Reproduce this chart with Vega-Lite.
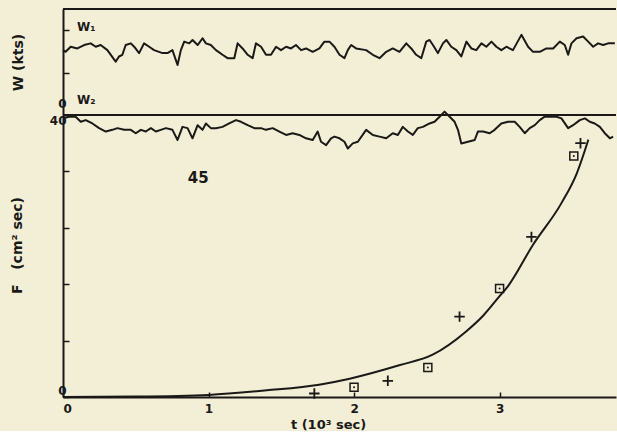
{
"$schema":"https://vega.github.io/schema/vega-lite/v6.json",
"background":"#f3eed6",
"padding":{"left":10,"top":8,"right":0,"bottom":0},
"spacing":0,
"bounds":"flush",
"config":{"view":{"stroke":null},"font":"DejaVu Sans",
"axis":{"domainColor":"#1b1917","domainWidth":2,"tickColor":"#1b1917","tickWidth":1.5,"tickSize":-6,"labelColor":"#1b1917","labelFont":"DejaVu Sans","labelFontWeight":"bold","labelFontSize":12,"titleColor":"#1b1917","titleFont":"DejaVu Sans","titleFontWeight":"bold","titleFontSize":13,"grid":false,"labelPadding":3}},
"datasets":{
"w1":[{"t":0,"w":15.3},{"t":0.018,"w":14.9},{"t":0.053,"w":16.1},{"t":0.099,"w":15.7},{"t":0.145,"w":16.5},{"t":0.19,"w":16.9},{"t":0.225,"w":16.1},{"t":0.259,"w":16.5},{"t":0.305,"w":15.3},{"t":0.362,"w":12.6},{"t":0.385,"w":13.8},{"t":0.408,"w":14.2},{"t":0.431,"w":16.5},{"t":0.466,"w":16.9},{"t":0.489,"w":16.1},{"t":0.523,"w":14.6},{"t":0.557,"w":16.9},{"t":0.592,"w":16.1},{"t":0.626,"w":15.3},{"t":0.684,"w":14.6},{"t":0.718,"w":14.6},{"t":0.752,"w":15.3},{"t":0.787,"w":11.8},{"t":0.81,"w":15.3},{"t":0.833,"w":17.3},{"t":0.867,"w":16.9},{"t":0.89,"w":17.7},{"t":0.925,"w":16.5},{"t":0.959,"w":18.1},{"t":0.982,"w":16.9},{"t":1.016,"w":16.5},{"t":1.051,"w":15.3},{"t":1.096,"w":14.2},{"t":1.131,"w":13.4},{"t":1.177,"w":13.4},{"t":1.2,"w":16.9},{"t":1.234,"w":15.7},{"t":1.269,"w":14.2},{"t":1.303,"w":13.4},{"t":1.326,"w":16.9},{"t":1.361,"w":16.1},{"t":1.395,"w":14.2},{"t":1.429,"w":14.2},{"t":1.464,"w":16.1},{"t":1.498,"w":15.3},{"t":1.533,"w":16.1},{"t":1.567,"w":15.7},{"t":1.601,"w":16.5},{"t":1.636,"w":15.3},{"t":1.67,"w":15.7},{"t":1.716,"w":14.9},{"t":1.762,"w":15.7},{"t":1.796,"w":17.3},{"t":1.831,"w":17.3},{"t":1.865,"w":16.1},{"t":1.9,"w":14.2},{"t":1.934,"w":13.4},{"t":1.957,"w":15.3},{"t":1.98,"w":16.5},{"t":2.014,"w":15.7},{"t":2.083,"w":15.3},{"t":2.129,"w":14.2},{"t":2.175,"w":13.4},{"t":2.221,"w":14.9},{"t":2.266,"w":15.7},{"t":2.312,"w":14.9},{"t":2.359,"w":16.9},{"t":2.393,"w":15.7},{"t":2.427,"w":14.2},{"t":2.462,"w":13.4},{"t":2.496,"w":17.3},{"t":2.519,"w":17.7},{"t":2.542,"w":16.5},{"t":2.576,"w":14.6},{"t":2.611,"w":16.9},{"t":2.634,"w":17.7},{"t":2.668,"w":16.1},{"t":2.703,"w":15.3},{"t":2.737,"w":13.8},{"t":2.772,"w":17.3},{"t":2.806,"w":15.7},{"t":2.84,"w":15.3},{"t":2.875,"w":16.9},{"t":2.909,"w":16.1},{"t":2.944,"w":17.3},{"t":2.978,"w":16.1},{"t":3.012,"w":15.3},{"t":3.047,"w":16.1},{"t":3.092,"w":15.3},{"t":3.15,"w":18.9},{"t":3.196,"w":16.1},{"t":3.23,"w":14.9},{"t":3.276,"w":14.9},{"t":3.322,"w":15.7},{"t":3.368,"w":15.7},{"t":3.414,"w":17.3},{"t":3.448,"w":16.5},{"t":3.471,"w":14.2},{"t":3.494,"w":16.9},{"t":3.529,"w":18.1},{"t":3.574,"w":18.5},{"t":3.609,"w":17.3},{"t":3.643,"w":16.1},{"t":3.677,"w":16.9},{"t":3.712,"w":16.5},{"t":3.746,"w":16.9},{"t":3.792,"w":16.9}],
"w2":[{"t":0,"w":24.2},{"t":0.041,"w":24.6},{"t":0.087,"w":24.6},{"t":0.122,"w":23.4},{"t":0.156,"w":23.8},{"t":0.202,"w":23.0},{"t":0.248,"w":21.9},{"t":0.294,"w":21.1},{"t":0.339,"w":21.5},{"t":0.374,"w":21.9},{"t":0.42,"w":21.5},{"t":0.466,"w":21.5},{"t":0.5,"w":20.7},{"t":0.535,"w":21.5},{"t":0.569,"w":21.1},{"t":0.604,"w":21.9},{"t":0.638,"w":21.1},{"t":0.672,"w":21.5},{"t":0.707,"w":21.9},{"t":0.752,"w":21.5},{"t":0.787,"w":19.1},{"t":0.821,"w":22.2},{"t":0.856,"w":21.9},{"t":0.89,"w":19.5},{"t":0.925,"w":22.6},{"t":0.959,"w":21.5},{"t":0.982,"w":23.0},{"t":1.016,"w":21.9},{"t":1.051,"w":21.9},{"t":1.096,"w":22.2},{"t":1.142,"w":23.0},{"t":1.189,"w":23.8},{"t":1.223,"w":23.4},{"t":1.269,"w":22.6},{"t":1.315,"w":21.9},{"t":1.361,"w":21.9},{"t":1.395,"w":21.5},{"t":1.441,"w":21.9},{"t":1.487,"w":21.1},{"t":1.533,"w":20.3},{"t":1.578,"w":20.7},{"t":1.624,"w":20.3},{"t":1.67,"w":19.5},{"t":1.716,"w":19.1},{"t":1.75,"w":21.1},{"t":1.773,"w":18.7},{"t":1.808,"w":17.9},{"t":1.842,"w":19.5},{"t":1.865,"w":19.9},{"t":1.9,"w":19.5},{"t":1.934,"w":18.7},{"t":1.957,"w":17.1},{"t":1.991,"w":18.3},{"t":2.026,"w":18.7},{"t":2.083,"w":21.5},{"t":2.129,"w":20.3},{"t":2.175,"w":19.9},{"t":2.221,"w":19.5},{"t":2.266,"w":20.7},{"t":2.301,"w":20.3},{"t":2.335,"w":22.2},{"t":2.37,"w":21.1},{"t":2.404,"w":20.3},{"t":2.438,"w":21.9},{"t":2.473,"w":22.2},{"t":2.519,"w":23.0},{"t":2.553,"w":23.4},{"t":2.588,"w":24.6},{"t":2.622,"w":25.8},{"t":2.657,"w":24.6},{"t":2.691,"w":23.4},{"t":2.714,"w":21.5},{"t":2.737,"w":18.3},{"t":2.783,"w":18.7},{"t":2.829,"w":19.1},{"t":2.851,"w":21.1},{"t":2.886,"w":21.1},{"t":2.932,"w":20.7},{"t":2.966,"w":21.5},{"t":3.012,"w":23.0},{"t":3.058,"w":23.4},{"t":3.104,"w":23.4},{"t":3.138,"w":22.2},{"t":3.173,"w":20.7},{"t":3.207,"w":21.9},{"t":3.242,"w":22.6},{"t":3.276,"w":23.8},{"t":3.31,"w":24.6},{"t":3.345,"w":24.6},{"t":3.391,"w":24.6},{"t":3.425,"w":24.2},{"t":3.471,"w":21.9},{"t":3.505,"w":22.6},{"t":3.551,"w":23.8},{"t":3.586,"w":24.2},{"t":3.62,"w":23.4},{"t":3.654,"w":23.0},{"t":3.689,"w":22.2},{"t":3.723,"w":20.7},{"t":3.758,"w":19.5},{"t":3.78,"w":19.9}],
"flux":[{"t":0,"F":0},{"t":0.5,"F":0.06},{"t":1.0,"F":0.3},{"t":1.4,"F":0.95},{"t":1.76,"F":1.75},{"t":1.97,"F":2.6},{"t":2.31,"F":4.5},{"t":2.54,"F":6.0},{"t":2.77,"F":9.3},{"t":2.89,"F":11.6},{"t":3.0,"F":14.3},{"t":3.05,"F":15.5},{"t":3.23,"F":21.6},{"t":3.425,"F":27.5},{"t":3.53,"F":31.7},{"t":3.61,"F":36.5}],
"obs":[{"t":2.0,"F":1.4,"kind":"square"},{"t":2.507,"F":4.2,"kind":"square"},{"t":3.0,"F":15.4,"kind":"square"},{"t":3.51,"F":34.2,"kind":"square"},{"t":1.727,"F":0.5,"kind":"plus"},{"t":2.232,"F":2.3,"kind":"plus"},{"t":2.725,"F":11.4,"kind":"plus"},{"t":3.219,"F":22.7,"kind":"plus"},{"t":3.556,"F":36.0,"kind":"plus"}]
},
"vconcat":[
{"width":553,"height":106,
 "layer":[
  {"data":{"name":"w1"},"mark":{"type":"line","color":"#1b1917","strokeWidth":2,"strokeJoin":"round"},
   "encoding":{"x":{"field":"t","type":"quantitative","scale":{"domain":[0,3.8],"nice":false},"axis":null},
    "y":{"field":"w","type":"quantitative","scale":{"domain":[0,25],"nice":false},"axis":{"values":[0,5,10,15,20,25],"labelExpr":"datum.value==0||datum.value==25?datum.label:''","labelFlush":true,"labelOffset":{"condition":{"test":"datum.value==0","value":-5},"value":0},"title":"W (kts)","titleFontSize":14,"titleX":-45,"titleY":53,"titleBaseline":"middle","titleAlign":"center"}}}},
  {"data":{"values":[{"v":25},{"v":0}]},"mark":{"type":"rule","color":"#1b1917","strokeWidth":2},
   "encoding":{"y":{"field":"v","type":"quantitative"}}},
  {"data":{"values":[{}]},"mark":{"type":"text","text":"W₁","align":"left","baseline":"middle","fontSize":12,"fontWeight":"bold","color":"#1b1917"},
   "encoding":{"x":{"datum":0.096},"y":{"datum":20.75}}},
  {"data":{"values":[{}]},"mark":{"type":"text","text":"W₂","align":"left","baseline":"middle","fontSize":12,"fontWeight":"bold","color":"#1b1917"},
   "encoding":{"x":{"datum":0.096},"y":{"datum":3.5}}}
 ]},
{"width":553,"height":282,
 "layer":[
  {"data":{"name":"w2"},"mark":{"type":"line","color":"#1b1917","strokeWidth":2,"strokeJoin":"round"},
   "encoding":{"x":{"field":"t","type":"quantitative","scale":{"domain":[0,3.8],"nice":false}},
    "y":{"field":"w","type":"quantitative","scale":{"domain":[-41.5,25],"nice":false,"zero":false},"axis":null}}},
  {"layer":[
   {"data":{"name":"flux"},"mark":{"type":"line","color":"#1b1917","strokeWidth":2,"interpolate":"monotone"},
    "encoding":{"x":{"field":"t","type":"quantitative","scale":{"domain":[0,3.8],"nice":false},"axis":{"values":[0,1,2,3],"format":"d","tickSize":-5,"labelFlush":true,"labelPadding":11,"labelFontSize":12,"title":"t (10³ sec)","titleX":265,"titleY":27,"titleBaseline":"middle"}},
     "y":{"field":"F","type":"quantitative","scale":{"domain":[0,40],"nice":false},"axis":{"values":[0,8,16,24,32,40],"labelExpr":"datum.value==0||datum.value==40?datum.label:''","labelFlush":true,"title":"F\u00a0\u00a0\u00a0(cm² sec)","titleFontSize":14,"titleX":-46,"titleY":130,"titleBaseline":"middle","titleAlign":"center"}}}},
   {"data":{"name":"obs"},"transform":[{"filter":"datum.kind=='square'"}],"mark":{"type":"point","shape":"square","filled":false,"size":64,"strokeWidth":1.5,"color":"#1b1917","opacity":1},
    "encoding":{"x":{"field":"t","type":"quantitative"},"y":{"field":"F","type":"quantitative"}}},
   {"data":{"name":"obs"},"transform":[{"filter":"datum.kind=='square'"}],"mark":{"type":"point","shape":"circle","filled":true,"size":4,"color":"#1b1917","opacity":1},
    "encoding":{"x":{"field":"t","type":"quantitative"},"y":{"field":"F","type":"quantitative"}}},
   {"data":{"name":"obs"},"transform":[{"filter":"datum.kind=='plus'"}],"mark":{"type":"point","shape":"M-1,0L1,0M0,-1L0,1","filled":false,"size":110,"strokeWidth":1.8,"color":"#1b1917","opacity":1},
    "encoding":{"x":{"field":"t","type":"quantitative"},"y":{"field":"F","type":"quantitative"}}},
   {"data":{"values":[{}]},"mark":{"type":"text","text":"45","align":"center","baseline":"middle","fontSize":15,"fontWeight":"bold","color":"#1b1917"},
    "encoding":{"x":{"datum":0.929},"y":{"datum":31.06}}}
  ]}
 ],
 "resolve":{"scale":{"y":"independent"}}}
]
}
